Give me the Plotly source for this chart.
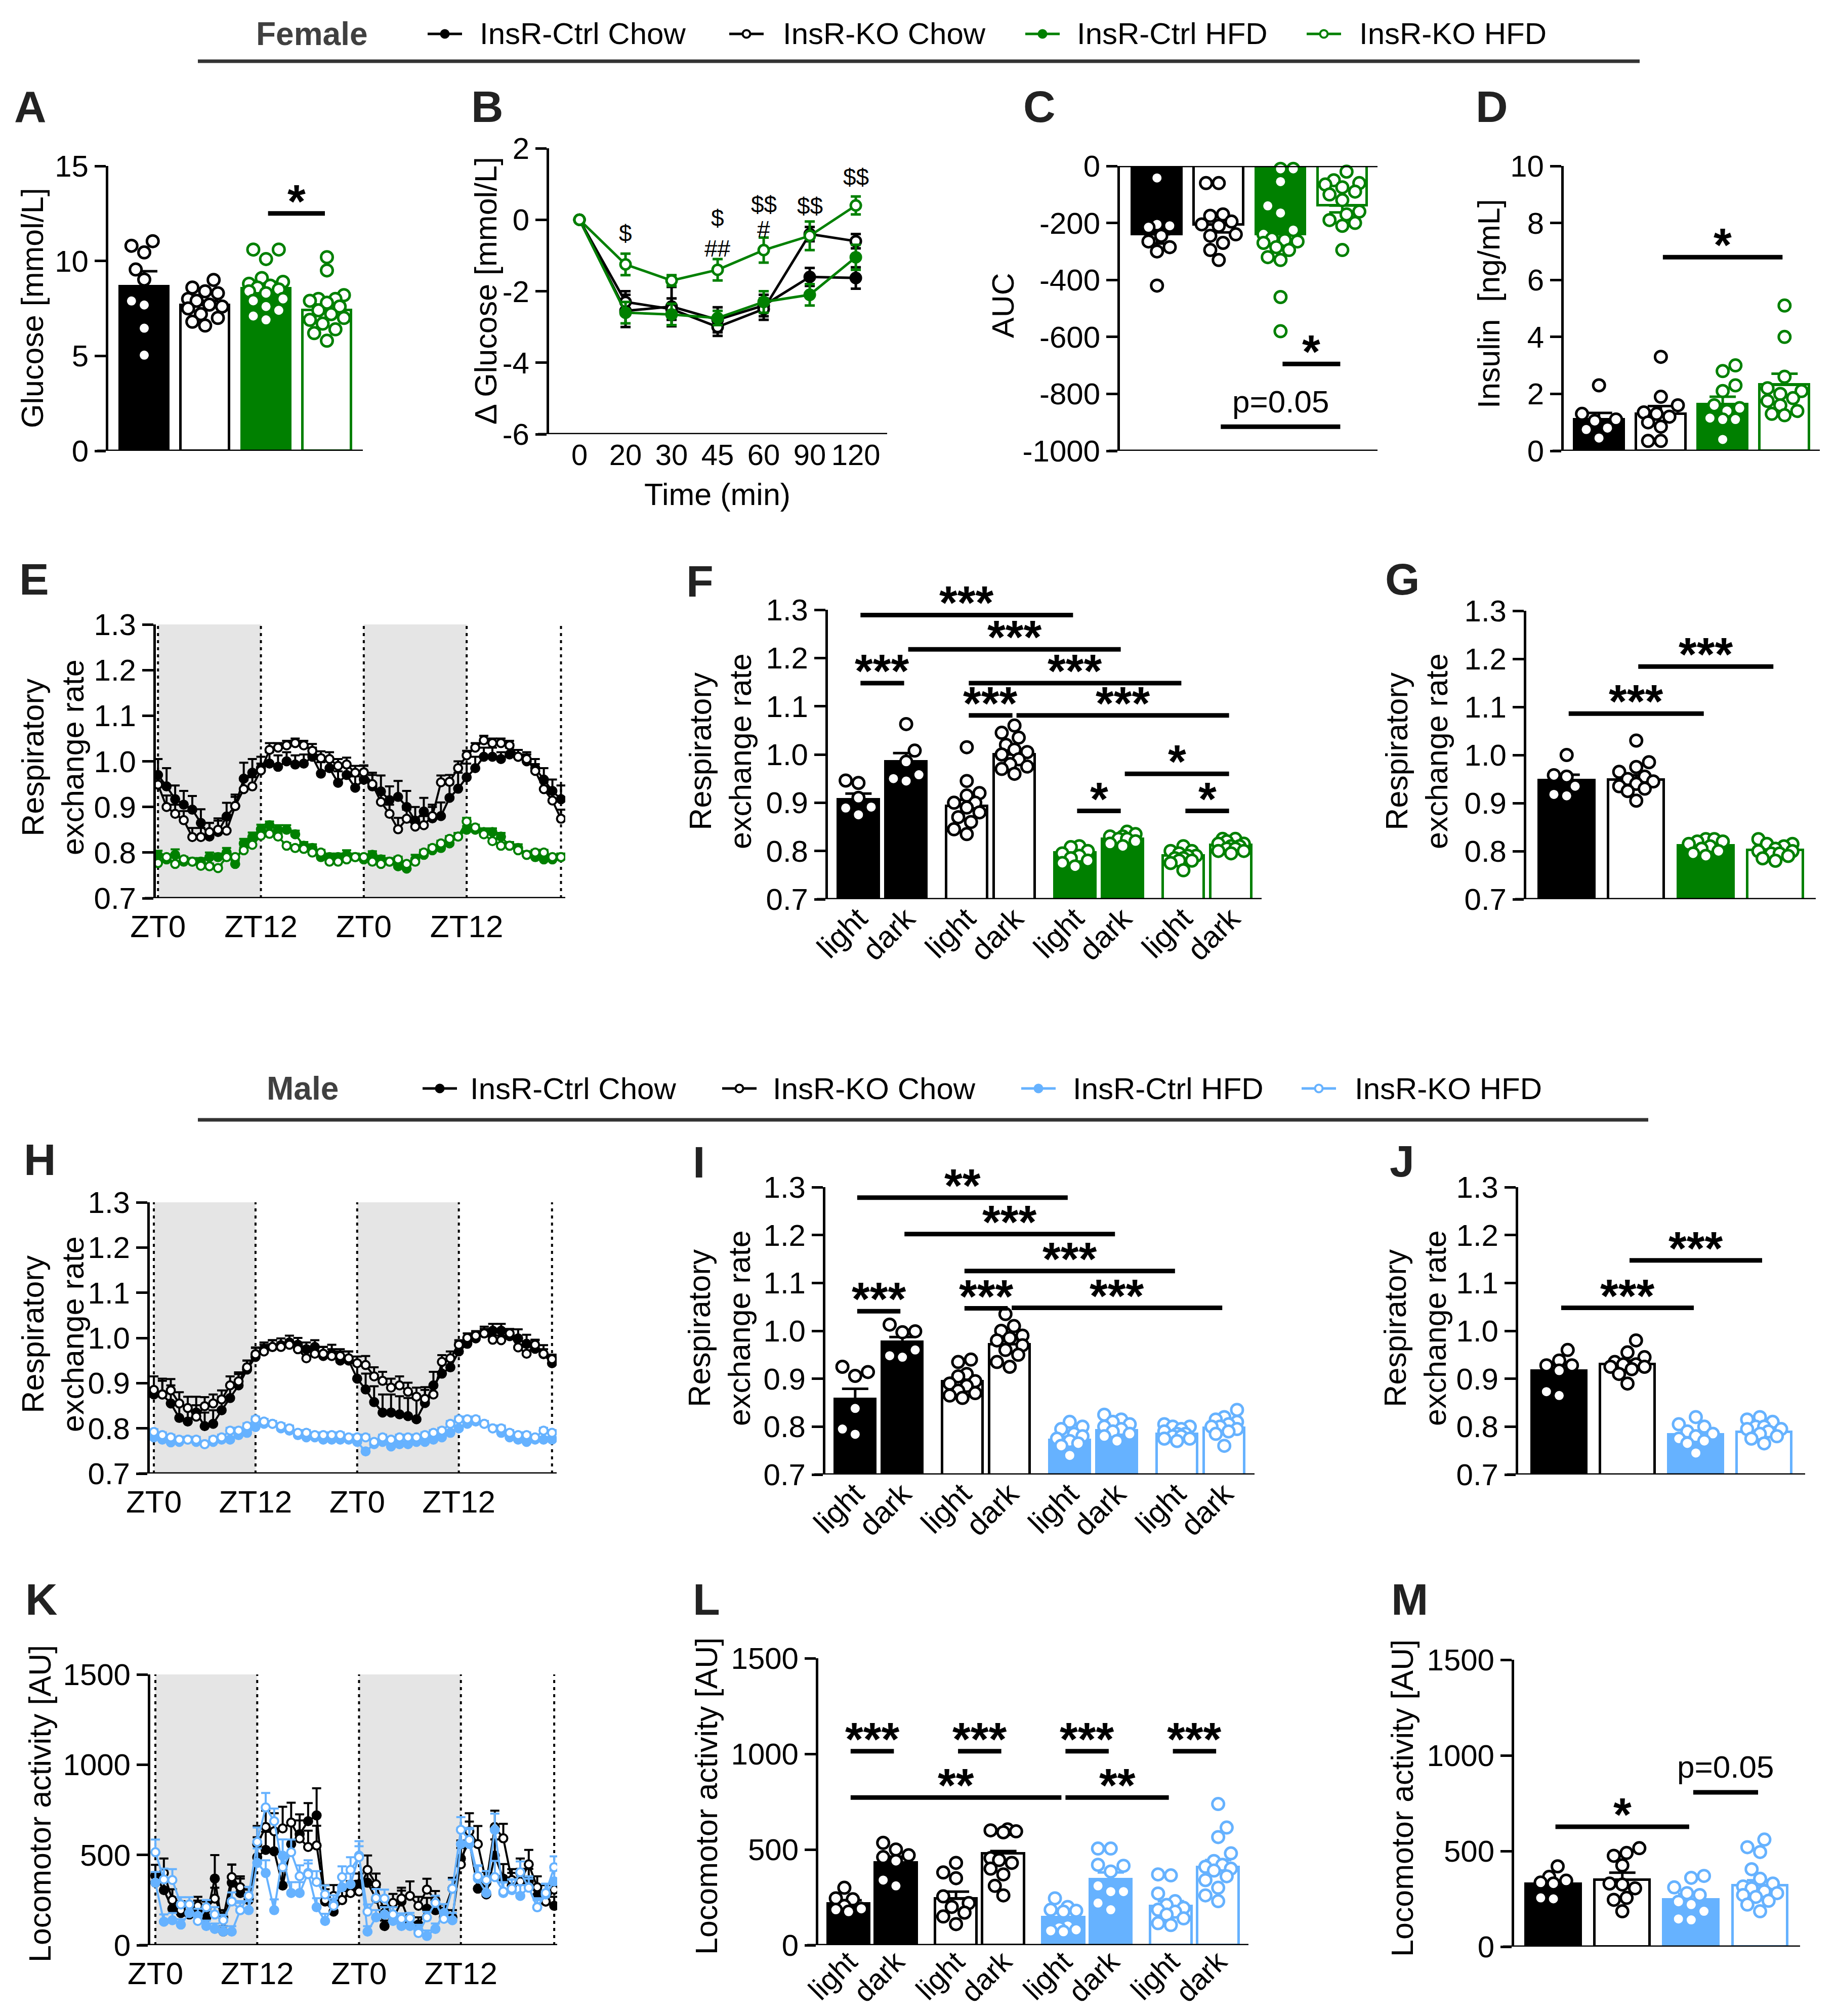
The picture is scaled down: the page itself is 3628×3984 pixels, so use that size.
import numpy as np
import plotly.graph_objects as go

W, H = 3628, 3984
FONT = "Liberation Sans, Arial, sans-serif"
BLACK, GREEN, BLUE = "#000000", "#008000", "#66B2FF"
SHADE = "#E5E5E5"

GROUPS = ["InsR-Ctrl Chow", "InsR-KO Chow", "InsR-Ctrl HFD", "InsR-KO HFD"]
FILLED = [True, False, True, False]
PHASES = ["light", "dark"]
TIME_LABELS = ["0", "20", "30", "45", "60", "90", "120"]
HOURS = list(range(48))
ZT_TICKS = [0, 12, 24, 36]
ZT_LABELS = ["ZT0", "ZT12", "ZT0", "ZT12"]
PHASE_LINES = [0, 12, 24, 36, 47]

# ---------------- female ----------------
A_MEAN = [8.66, 7.68, 8.55, 7.42]
A_SEM = [0.8, 0.22, 0.35, 0.35]
A_PTS = [
    [10.8, 10.45, 11.04, 9.55, 9.02, 7.68, 7.89, 6.46, 5.04],
    [9.0, 8.6, 8.4, 8.3, 8.0, 7.9, 7.7, 7.6, 7.5, 7.2, 7.0, 6.8, 6.6],
    [10.6, 10.6, 10.1, 9.1, 8.9, 8.8, 8.7, 8.6, 8.5, 8.4, 8.3, 8.0, 7.9, 7.6, 7.4, 7.1, 6.9],
    [10.2, 9.5, 8.0, 7.9, 8.2, 8.0, 7.8, 7.6, 7.4, 7.2, 7.0, 6.9, 6.7, 6.4, 6.2, 5.8],
]

B_MEAN = [
    [0, -2.55, -2.43, -2.8, -2.4, -1.6, -1.63],
    [0, -2.3, -2.5, -3.0, -2.5, -0.4, -0.6],
    [0, -2.6, -2.65, -2.75, -2.3, -2.1, -1.05],
    [0, -1.25, -1.7, -1.4, -0.85, -0.45, 0.4],
]
B_SEM = [
    [0, 0.45, 0.55, 0.35, 0.3, 0.25, 0.3],
    [0, 0.3, 0.3, 0.25, 0.3, 0.2, 0.2],
    [0, 0.3, 0.3, 0.2, 0.3, 0.3, 0.35],
    [0, 0.3, 0.15, 0.3, 0.35, 0.4, 0.25],
]
B_MARKS = [(1, -0.38, "$"), (3, 0.05, "$"), (3, -0.8, "##"), (4, 0.43, "$$"),
           (4, -0.27, "#"), (5, 0.38, "$$"), (6, 1.19, "$$")]

C_MEAN = [-240, -206, -240, -139]
C_SEM = [32, 27, 35, 24]
C_PTS = [
    [-42, -205, -210, -215, -245, -265, -285, -300, -420],
    [-60, -60, -170, -175, -195, -205, -210, -240, -245, -270, -295, -330],
    [-10, -10, -55, -140, -165, -225, -240, -255, -260, -265, -270, -285, -295, -320, -330, -460, -580],
    [-20, -50, -60, -65, -75, -90, -100, -120, -160, -170, -190, -200, -210, -295],
]

D_MEAN = [1.1, 1.29, 1.63, 2.32]
D_SEM = [0.23, 0.28, 0.27, 0.39]
D_PTS = [
    [2.3, 1.3, 1.1, 1.05, 0.8, 0.75, 0.45],
    [3.3, 1.9, 1.6, 1.35, 1.3, 1.2, 1.0, 0.85, 0.35, 0.35],
    [3.0, 2.8, 2.3, 2.1, 1.6, 1.5, 1.4, 1.15, 1.1, 1.1, 0.4],
    [5.1, 4.0, 2.6, 2.2, 2.1, 2.0, 1.85, 1.75, 1.6, 1.4, 1.3, 1.25],
]

E_MEAN = [
    [0.97, 0.945, 0.917, 0.905, 0.894, 0.865, 0.835, 0.845,
     0.879, 0.902, 0.962, 0.975, 0.985, 0.995, 0.988, 1.0,
     0.993, 0.995, 1.01, 0.973, 0.985, 0.953, 0.97, 0.942,
     0.96, 0.945, 0.934, 0.915, 0.922, 0.90, 0.87, 0.89,
     0.875, 0.88, 0.92, 0.94, 0.965, 0.985, 1.01, 1.01,
     1.005, 1.015, 1.01, 1.0, 0.985, 0.96, 0.935, 0.917],
    [0.949, 0.90, 0.885, 0.871, 0.834, 0.834, 0.845, 0.85,
     0.848, 0.902, 0.939, 0.945, 0.98, 1.025, 1.03, 1.035,
     1.04, 1.035, 1.023, 1.007, 1.005, 0.99, 0.993, 0.975,
     0.976, 0.95, 0.911, 0.885, 0.851, 0.874, 0.857, 0.86,
     0.88, 0.954, 0.955, 0.985, 1.013, 1.03, 1.046, 1.04,
     1.04, 1.035, 1.01, 1.005, 0.979, 0.939, 0.914, 0.874],
    [0.794, 0.785, 0.795, 0.78, 0.78, 0.78, 0.79, 0.79,
     0.80, 0.775, 0.82, 0.834, 0.851, 0.86, 0.85, 0.85,
     0.84, 0.815, 0.81, 0.79, 0.79, 0.79, 0.795, 0.79,
     0.785, 0.795, 0.785, 0.78, 0.77, 0.765, 0.785, 0.795,
     0.805, 0.81, 0.82, 0.835, 0.85, 0.85, 0.845, 0.845,
     0.835, 0.815, 0.81, 0.795, 0.79, 0.785, 0.785, 0.79],
    [0.777, 0.79, 0.775, 0.785, 0.78, 0.771, 0.77, 0.766,
     0.79, 0.79, 0.805, 0.817, 0.837, 0.841, 0.835, 0.815,
     0.81, 0.808, 0.80, 0.80, 0.78, 0.78, 0.785, 0.79,
     0.79, 0.78, 0.775, 0.78, 0.785, 0.775, 0.78, 0.80,
     0.81, 0.82, 0.83, 0.835, 0.868, 0.855, 0.84, 0.825,
     0.815, 0.815, 0.805, 0.795, 0.80, 0.80, 0.79, 0.79],
]
E_SEM = [
    [0.035, 0.04, 0.03, 0.03, 0.03, 0.03, 0.03, 0.03,
     0.03, 0.025, 0.035, 0.03, 0.025, 0.025, 0.025, 0.02,
     0.02, 0.02, 0.02, 0.025, 0.02, 0.025, 0.02, 0.025,
     0.03, 0.03, 0.035, 0.03, 0.035, 0.035, 0.03, 0.03,
     0.03, 0.03, 0.03, 0.035, 0.03, 0.025, 0.02, 0.02,
     0.015, 0.015, 0.015, 0.015, 0.02, 0.025, 0.025, 0.03],
    [0.02, 0.025, 0.02, 0.02, 0.02, 0.02, 0.02, 0.02,
     0.025, 0.02, 0.02, 0.02, 0.015, 0.015, 0.01, 0.01,
     0.01, 0.01, 0.015, 0.015, 0.015, 0.015, 0.015, 0.015,
     0.015, 0.02, 0.02, 0.02, 0.025, 0.02, 0.02, 0.02,
     0.02, 0.015, 0.015, 0.015, 0.01, 0.01, 0.01, 0.01,
     0.01, 0.01, 0.015, 0.015, 0.015, 0.015, 0.02, 0.02],
    [0.01, 0.008, 0.012, 0.01, 0.008, 0.008, 0.01, 0.008,
     0.01, 0.008, 0.01, 0.01, 0.01, 0.008, 0.01, 0.01,
     0.008, 0.008, 0.008, 0.008, 0.008, 0.008, 0.01, 0.008,
     0.008, 0.008, 0.008, 0.008, 0.01, 0.008, 0.01, 0.01,
     0.01, 0.01, 0.01, 0.008, 0.008, 0.008, 0.008, 0.008,
     0.008, 0.008, 0.008, 0.008, 0.008, 0.008, 0.008, 0.008],
    [0.006, 0.006, 0.006, 0.006, 0.006, 0.006, 0.006, 0.006,
     0.006, 0.006, 0.006, 0.008, 0.008, 0.008, 0.006, 0.006,
     0.006, 0.006, 0.006, 0.006, 0.006, 0.006, 0.006, 0.006,
     0.006, 0.006, 0.006, 0.006, 0.006, 0.006, 0.006, 0.006,
     0.006, 0.006, 0.006, 0.006, 0.008, 0.006, 0.006, 0.006,
     0.006, 0.006, 0.006, 0.006, 0.006, 0.006, 0.006, 0.006],
]

F_MEAN = [0.907, 0.985, 0.893, 1.0, 0.797, 0.825, 0.79, 0.812]
F_SEM = [0.012, 0.018, 0.013, 0.009, 0.004, 0.004, 0.004, 0.004]
F_PTS = [
    [0.91, 0.941, 0.946, 0.875, 0.891, 0.889],
    [1.063, 1.008, 0.985, 0.945, 0.958, 0.95],
    [1.015, 0.945, 0.92, 0.90, 0.915, 0.90, 0.89, 0.88, 0.87, 0.86, 0.845, 0.835],
    [1.06, 1.045, 1.035, 1.02, 1.01, 1.005, 1.0, 0.99, 0.98, 0.975, 0.97, 0.96],
    [0.81, 0.808, 0.80, 0.795, 0.79, 0.785, 0.78, 0.775, 0.768],
    [0.84, 0.835, 0.83, 0.83, 0.825, 0.825, 0.82, 0.815, 0.81],
    [0.81, 0.80, 0.80, 0.795, 0.79, 0.79, 0.785, 0.785, 0.78, 0.78, 0.775, 0.76],
    [0.825, 0.825, 0.82, 0.815, 0.815, 0.81, 0.81, 0.805, 0.805, 0.80, 0.80, 0.795],
]

G_MEAN = [0.947, 0.948, 0.812, 0.802]
G_SEM = [0.012, 0.01, 0.003, 0.003]
G_PTS = [
    [1.0, 0.958, 0.955, 0.935, 0.918, 0.915],
    [1.03, 0.985, 0.975, 0.965, 0.955, 0.95, 0.945, 0.94, 0.935, 0.93, 0.925, 0.905],
    [0.825, 0.825, 0.82, 0.82, 0.815, 0.81, 0.805, 0.80, 0.795, 0.79],
    [0.825, 0.815, 0.815, 0.81, 0.805, 0.80, 0.80, 0.795, 0.795, 0.79, 0.785, 0.78],
]

# ---------------- male ----------------
H_MEAN = [
    [0.875, 0.875, 0.855, 0.823, 0.815, 0.835, 0.805, 0.81,
     0.84, 0.867, 0.895, 0.93, 0.958, 0.975, 0.98, 0.984,
     0.99, 0.985, 0.975, 0.98, 0.96, 0.965, 0.95, 0.95,
     0.91, 0.886, 0.858, 0.835, 0.835, 0.831, 0.827, 0.82,
     0.856, 0.895, 0.921, 0.935, 0.97, 0.987, 0.999, 1.01,
     1.016, 1.016, 1.004, 0.999, 0.987, 0.976, 0.964, 0.944],
    [0.885, 0.875, 0.884, 0.855, 0.845, 0.826, 0.849, 0.855,
     0.864, 0.895, 0.904, 0.935, 0.964, 0.97, 0.98, 0.98,
     0.985, 0.975, 0.955, 0.965, 0.965, 0.96, 0.96, 0.955,
     0.944, 0.94, 0.915, 0.905, 0.89, 0.895, 0.881, 0.87,
     0.865, 0.875, 0.947, 0.955, 0.985, 1.0, 1.005, 1.01,
     0.996, 0.995, 1.01, 0.979, 0.965, 0.985, 0.965, 0.953],
    [0.78, 0.775, 0.769, 0.77, 0.775, 0.77, 0.765, 0.77,
     0.775, 0.775, 0.785, 0.79, 0.803, 0.81, 0.81, 0.80,
     0.795, 0.785, 0.78, 0.78, 0.775, 0.775, 0.775, 0.775,
     0.77, 0.749, 0.765, 0.77, 0.76, 0.765, 0.765, 0.77,
     0.77, 0.775, 0.78, 0.79, 0.80, 0.81, 0.815, 0.81,
     0.80, 0.79, 0.78, 0.775, 0.77, 0.775, 0.775, 0.775],
    [0.792, 0.785, 0.78, 0.775, 0.775, 0.775, 0.765, 0.775,
     0.78, 0.795, 0.795, 0.805, 0.82, 0.815, 0.81, 0.805,
     0.80, 0.79, 0.79, 0.785, 0.785, 0.785, 0.785, 0.78,
     0.78, 0.78, 0.77, 0.78, 0.775, 0.78, 0.78, 0.78,
     0.785, 0.79, 0.795, 0.81, 0.82, 0.82, 0.82, 0.81,
     0.80, 0.80, 0.79, 0.785, 0.785, 0.78, 0.795, 0.79],
]
H_SEM = [
    [0.04, 0.035, 0.04, 0.035, 0.03, 0.035, 0.03, 0.03,
     0.03, 0.03, 0.025, 0.02, 0.02, 0.015, 0.015, 0.015,
     0.015, 0.015, 0.015, 0.015, 0.02, 0.02, 0.02, 0.02,
     0.03, 0.035, 0.035, 0.04, 0.04, 0.04, 0.04, 0.045,
     0.035, 0.03, 0.025, 0.02, 0.02, 0.015, 0.015, 0.015,
     0.015, 0.015, 0.015, 0.02, 0.02, 0.02, 0.02, 0.015],
    [0.03, 0.03, 0.025, 0.025, 0.025, 0.025, 0.02, 0.02,
     0.02, 0.02, 0.02, 0.015, 0.015, 0.015, 0.015, 0.01,
     0.01, 0.015, 0.015, 0.015, 0.015, 0.015, 0.015, 0.015,
     0.015, 0.02, 0.02, 0.02, 0.02, 0.02, 0.02, 0.02,
     0.02, 0.02, 0.015, 0.015, 0.01, 0.01, 0.01, 0.01,
     0.01, 0.01, 0.01, 0.015, 0.015, 0.01, 0.01, 0.01],
    [0.006] * 48,
    [0.006] * 48,
]

I_MEAN = [0.857, 0.977, 0.894, 0.972, 0.772, 0.792, 0.784, 0.797]
I_SEM = [0.022, 0.01, 0.008, 0.01, 0.007, 0.006, 0.005, 0.006]
I_PTS = [
    [0.925, 0.914, 0.906, 0.838, 0.795, 0.784],
    [1.013, 0.999, 0.997, 0.96, 0.948, 0.945],
    [0.94, 0.935, 0.91, 0.905, 0.895, 0.89, 0.885, 0.875, 0.87, 0.865, 0.86],
    [1.035, 1.01, 1.0, 0.99, 0.985, 0.98, 0.97, 0.96, 0.95, 0.935, 0.925],
    [0.81, 0.80, 0.795, 0.785, 0.78, 0.775, 0.77, 0.765, 0.76, 0.74],
    [0.825, 0.815, 0.81, 0.805, 0.80, 0.795, 0.79, 0.785, 0.78, 0.77],
    [0.805, 0.80, 0.80, 0.795, 0.79, 0.785, 0.785, 0.78, 0.78, 0.775, 0.775, 0.77],
    [0.835, 0.82, 0.815, 0.81, 0.805, 0.80, 0.80, 0.795, 0.79, 0.785, 0.76],
]

J_MEAN = [0.917, 0.93, 0.783, 0.789]
J_SEM = [0.012, 0.008, 0.006, 0.004]
J_PTS = [
    [0.96, 0.938, 0.928, 0.928, 0.917, 0.873, 0.865],
    [0.98, 0.955, 0.945, 0.935, 0.93, 0.93, 0.925, 0.925, 0.92, 0.91, 0.89],
    [0.82, 0.805, 0.80, 0.79, 0.785, 0.78, 0.775, 0.77, 0.765, 0.745],
    [0.82, 0.815, 0.81, 0.80, 0.80, 0.795, 0.795, 0.79, 0.785, 0.78, 0.775, 0.765],
]

K_MEAN = [
    [385, 305, 202, 178, 170, 202, 154, 369, 75, 346, 289, 250,
     488, 528, 520, 330, 560, 615, 687, 719, 242, 186, 250, 305,
     337, 346, 258, 106, 146, 242, 122, 114, 202, 194, 154, 154,
     480, 575, 313, 281, 496, 369, 330, 400, 353, 273, 242, 218],
    [346, 400, 250, 194, 178, 218, 202, 258, 154, 377, 321, 258,
     560, 655, 631, 647, 679, 591, 544, 552, 250, 273, 250, 289,
     297, 417, 337, 178, 234, 258, 273, 218, 308, 250, 186, 313,
     448, 631, 560, 346, 655, 592, 361, 353, 448, 321, 242, 308],
    [346, 130, 138, 114, 178, 162, 106, 90, 75, 75, 194, 194,
     456, 400, 194, 496, 289, 289, 400, 210, 134, 226, 321, 337,
     496, 75, 154, 170, 134, 106, 106, 83, 51, 90, 178, 138,
     560, 560, 369, 289, 639, 289, 305, 273, 321, 210, 281, 353],
    [515, 364, 361, 226, 226, 134, 210, 170, 138, 242, 194, 273,
     572, 763, 687, 432, 515, 382, 393, 350, 281, 218, 377, 417,
     488, 186, 261, 258, 170, 146, 149, 67, 154, 234, 146, 313,
     639, 583, 382, 361, 377, 297, 313, 404, 318, 210, 289, 432],
]
K_SEM = [
    [60, 90, 50, 40, 40, 45, 40, 130, 30, 100, 80, 60,
     110, 100, 120, 90, 120, 110, 100, 150, 90, 60, 60, 50,
     60, 70, 60, 30, 40, 60, 40, 40, 60, 50, 40, 40,
     100, 110, 70, 60, 90, 80, 70, 80, 70, 60, 90, 50],
    [50, 80, 60, 50, 40, 50, 40, 60, 40, 70, 60, 50,
     100, 90, 100, 120, 110, 100, 90, 110, 60, 60, 50, 60,
     60, 80, 60, 40, 50, 60, 80, 50, 60, 50, 40, 60,
     90, 100, 100, 60, 90, 80, 60, 70, 80, 60, 60, 50],
    [60, 40, 40, 30, 40, 40, 30, 30, 30, 30, 50, 50,
     80, 70, 60, 90, 60, 60, 70, 50, 40, 50, 60, 60,
     80, 30, 40, 40, 30, 30, 30, 30, 30, 30, 50, 40,
     90, 90, 70, 60, 90, 60, 60, 60, 60, 50, 60, 60],
    [70, 60, 60, 40, 40, 30, 40, 40, 30, 50, 40, 50,
     80, 80, 70, 60, 70, 60, 60, 60, 50, 40, 60, 70,
     60, 40, 50, 50, 40, 30, 30, 20, 30, 40, 30, 50,
     70, 60, 60, 50, 90, 50, 50, 60, 50, 40, 50, 60],
]

L_MEAN = [217, 430, 243, 480, 145, 345, 205, 408]
L_SEM = [18, 33, 37, 12, 22, 35, 25, 37]
L_PTS = [
    [300, 245, 240, 205, 190, 185, 175],
    [535, 500, 470, 460, 440, 340, 310],
    [430, 380, 350, 255, 220, 200, 170, 150, 110],
    [605, 600, 595, 590, 455, 445, 430, 400, 370, 310, 260],
    [245, 200, 185, 180, 175, 100, 90, 80, 75, 70],
    [505, 505, 420, 415, 385, 310, 280, 280, 220, 185],
    [370, 365, 270, 230, 210, 195, 185, 175, 160, 140, 115, 105],
    [738, 615, 565, 480, 440, 420, 410, 400, 390, 360, 340, 300, 260, 230],
]

M_MEAN = [327, 350, 245, 320]
M_SEM = [18, 37, 30, 27]
M_PTS = [
    [420, 365, 345, 335, 330, 255, 250],
    [515, 490, 475, 425, 330, 325, 305, 255, 245, 185],
    [370, 360, 310, 280, 270, 235, 220, 185, 145, 140],
    [560, 520, 495, 405, 355, 330, 315, 305, 290, 280, 270, 260, 240, 220, 185],
]

# significance brackets: (bar i, bar j, y of line, label)
SIG_A = [(2, 3, 12.5, "*")]
SIG_C = [(2, 3, -695, "*"), (1, 3, -915, "p=0.05")]
SIG_D = [(1, 3, 6.8, "*")]
SIG_F = [(0, 4, 1.289, "***"), (1, 5, 1.218, "***"), (2, 6, 1.148, "***"),
         (0, 1, 1.148, "***"), (2, 3, 1.081, "***"), (3, 7, 1.081, "***"),
         (5, 7, 0.96, "*"), (4, 5, 0.883, "*"), (6, 7, 0.883, "*")]
SIG_G = [(0, 2, 1.086, "***"), (1, 3, 1.184, "***")]
SIG_I = [(0, 4, 1.278, "**"), (1, 5, 1.202, "***"), (2, 6, 1.125, "***"),
         (0, 1, 1.041, "***"), (2, 3, 1.047, "***"), (3, 7, 1.048, "***")]
SIG_J = [(0, 2, 1.048, "***"), (1, 3, 1.147, "***")]
SIG_L = [(0, 1, 1014, "***"), (2, 3, 1014, "***"), (4, 5, 1014, "***"),
         (6, 7, 1014, "***"), (0, 4, 772, "**"), (4, 6, 772, "**")]
SIG_M = [(0, 2, 627, "*"), (2, 3, 807, "p=0.05")]

# ---------------------------------------------------------------
fig = go.Figure()
layout = {}
shapes = []
annotations = []

# panel boxes in page pixels: left, right, top, bottom
BOX = {
    "A": (214, 717, 328, 891), "B": (1085, 1753, 293, 858),
    "C": (2213, 2722, 328, 891), "D": (3090, 3596, 328, 891),
    "E": (308, 1117, 1234, 1775), "F": (1636, 2493, 1205, 1777),
    "G": (3016, 3588, 1207, 1777), "H": (296, 1100, 2376, 2912),
    "I": (1631, 2479, 2346, 2914), "J": (3000, 3567, 2346, 2914),
    "K": (297, 1101, 3309, 3844), "L": (1617, 2467, 3277, 3844),
    "M": (2992, 3557, 3280, 3847),
}
LETTER_XY = {
    "A": (60, 211), "B": (963, 211), "C": (2054, 211), "D": (2948, 211),
    "E": (67, 1144), "F": (1383, 1149), "G": (2771, 1144),
    "H": (79, 2291), "I": (1381, 2296), "J": (2770, 2294),
    "K": (82, 3160), "L": (1396, 3160), "M": (2785, 3160),
}
TICKLEN = 22


def names(n):
    s = "" if n == 1 else str(n)
    return "x" + s, "y" + s, "xaxis" + s, "yaxis" + s


def make_axes(n, key, xr, yr, yticks, yfmt="", xvals=None, xtext=None,
              xangle=0, xfont=58, xstand=0, bases=None, ytext=None):
    x0, x1, yt, yb = BOX[key]
    xa, ya, xk, yk = names(n)
    layout[xk] = dict(domain=[x0 / W, x1 / W], range=xr, anchor=ya,
                      showline=False, showgrid=False, zeroline=False, ticks="",
                      tickvals=xvals if xvals is not None else [],
                      ticktext=xtext if xtext is not None else [],
                      showticklabels=xvals is not None, tickangle=xangle,
                      tickfont=dict(size=xfont), ticklabelstandoff=xstand,
                      automargin=False, fixedrange=True)
    ya_cfg = dict(domain=[1 - yb / H, 1 - yt / H], range=yr, anchor=xa,
                  showline=True, linewidth=5, linecolor="black",
                  ticks="outside", ticklen=TICKLEN, tickwidth=5,
                  tickcolor="black", tickvals=yticks, tickformat=yfmt,
                  tickfont=dict(size=60), showgrid=False, zeroline=False,
                  automargin=False, fixedrange=True)
    if ytext is not None:
        ya_cfg["ticktext"] = ytext
    layout[yk] = ya_cfg
    for b in (bases if bases is not None else [yr[0]]):
        shapes.append(dict(type="line", xref="paper", yref=ya,
                           x0=(x0 - TICKLEN) / W, x1=x1 / W, y0=b, y1=b,
                           line=dict(color="black", width=5)))
    lx, ly = LETTER_XY[key]
    annotations.append(dict(xref="paper", yref="paper", x=lx / W, y=1 - ly / H,
                            text="<b>%s</b>" % key, showarrow=False,
                            font=dict(size=88, color="#222222"),
                            xanchor="center", yanchor="middle"))
    return xa, ya


def axis_title(text, x, y, size=61):
    annotations.append(dict(xref="paper", yref="paper", x=x / W, y=1 - y / H,
                            text=text, textangle=-90, showarrow=False,
                            font=dict(size=size), xanchor="center",
                            yanchor="middle"))


def swarm(vals, ppy, maxpx, d=28):
    placed = []
    offs = [0.0] * len(vals)
    base = [k * d * 0.3 for k in range(-25, 26)]
    base = [c for c in base if abs(c) <= maxpx] or [0.0]
    for cnt, i in enumerate(sorted(range(len(vals)), key=lambda k: vals[k])):
        sgn = 1 if cnt % 2 else -1
        cands = sorted(base, key=lambda c: (abs(c), sgn * c))
        y = vals[i] * ppy
        best, best_gap = 0.0, -1.0
        for c in cands:
            gap = min([np.hypot(c - a, y - b) for a, b in placed] or [1e9])
            if gap >= 0.9 * d:
                best = c
                break
            if gap > best_gap:
                best, best_gap = c, gap
        placed.append((best, y))
        offs[i] = best
    return offs


def bar_panel(n, key, xr, yr, pos, means, sems, pts, colors, filled, bw, neg=False):
    xa, ya, _, _ = names(n)
    x0, x1, yt, yb = BOX[key]
    ppx = (x1 - x0) / (xr[1] - xr[0])
    ppy = (yb - yt) / (yr[1] - yr[0])
    for p, m, s, vals, c, f in zip(pos, means, sems, pts, colors, filled):
        fig.add_trace(go.Bar(
            x=[p], y=[m], width=bw, xaxis=xa, yaxis=ya,
            marker=dict(color=c if f else "white", line=dict(color=c, width=5)),
            error_y=dict(type="data", symmetric=False,
                         array=[0 if neg else s], arrayminus=[s if neg else 0],
                         color=c, thickness=5, width=26)))
        offs = swarm(vals, ppy, bw * ppx / 2 - 14)
        fig.add_trace(go.Scatter(
            x=[p + o / ppx for o in offs], y=vals, mode="markers",
            xaxis=xa, yaxis=ya, cliponaxis=False,
            marker=dict(size=23, color="white", line=dict(color=c, width=5))))
    return ppx


def sig(n, pos, specs, ppx):
    xa, ya, _, _ = names(n)
    sh = 4 / ppx
    for i, j, y, label in specs:
        shapes.append(dict(type="line", xref=xa, yref=ya, x0=pos[i] + sh,
                           x1=pos[j] - sh, y0=y, y1=y,
                           line=dict(color="black", width=9)))
        if label.startswith("p"):
            txt, size, shift = label, 62, 50
        else:
            txt, size, shift = "<b>%s</b>" % label, 92, 24
        annotations.append(dict(xref=xa, yref=ya, x=(pos[i] + pos[j]) / 2, y=y,
                                text=txt, showarrow=False, font=dict(size=size),
                                xanchor="center", yanchor="middle", yshift=shift))


def time_panel(n, key, xr, yr, yticks, yfmt, series, sems, colors, filled, bases=None):
    xa, ya = make_axes(n, key, xr, yr, yticks, yfmt, xvals=ZT_TICKS,
                       xtext=ZT_LABELS, xfont=62, xstand=14, bases=bases)
    for a, b in [(0, 12), (24, 36)]:
        shapes.append(dict(type="rect", xref=xa, yref=ya, x0=a, x1=b,
                           y0=yr[0], y1=yr[1], fillcolor=SHADE,
                           line=dict(width=0), layer="below"))
    for h in PHASE_LINES:
        shapes.append(dict(type="line", xref=xa, yref=ya, x0=h, x1=h,
                           y0=yr[0], y1=yr[1], layer="below",
                           line=dict(color="black", width=4, dash="6px,8px")))
    for ys, es, c, f in zip(series, sems, colors, filled):
        fig.add_trace(go.Scatter(
            x=HOURS, y=ys, mode="lines+markers", xaxis=xa, yaxis=ya,
            line=dict(color=c, width=4),
            marker=dict(size=16, color=c if f else "white",
                        line=dict(color=c, width=4)),
            error_y=dict(type="data", symmetric=False, array=es,
                         arrayminus=[0] * len(es), color=c, thickness=4, width=9)))


FEM_COL = [BLACK, BLACK, GREEN, GREEN]
MAL_COL = [BLACK, BLACK, BLUE, BLUE]
FOUR = [0, 1, 2, 3]
PAIRS = [p * 2.27 + m for p in range(4) for m in range(2)]
ROT_STAND = -10


def twice(seq):
    return [v for v in seq for _ in range(2)]


def plain(ticks):
    return [str(v) for v in ticks]


# ---- A ----
make_axes(1, "A", [-0.59, 3.59], [0, 15], [0, 5, 10, 15])
ppx = bar_panel(1, "A", [-0.59, 3.59], [0, 15], FOUR, A_MEAN, A_SEM, A_PTS, FEM_COL, FILLED, 0.8)
sig(1, FOUR, SIG_A, ppx)
axis_title("Glucose [mmol/L]", 64, 609)

# ---- B ----
B_TICKS = [-6, -4, -2, 0, 2]
xa, ya = make_axes(2, "B", [-0.66, 6.68], [-6, 2], B_TICKS, ytext=plain(B_TICKS),
                   xvals=list(range(len(TIME_LABELS))), xtext=TIME_LABELS, xstand=2)
for ys, es, c, f in zip(B_MEAN, B_SEM, FEM_COL, FILLED):
    fig.add_trace(go.Scatter(
        x=list(range(len(TIME_LABELS))), y=ys, mode="lines+markers",
        xaxis=xa, yaxis=ya, cliponaxis=False, line=dict(color=c, width=5),
        marker=dict(size=20, color=c if f else "white", line=dict(color=c, width=5)),
        error_y=dict(type="data", array=es, color=c, thickness=5, width=10)))
for i, y, t in B_MARKS:
    annotations.append(dict(xref=xa, yref=ya, x=i, y=y, text=t, showarrow=False,
                            font=dict(size=46), xanchor="center", yanchor="middle"))
axis_title("Δ Glucose [mmol/L]", 960, 575)
annotations.append(dict(xref="paper", yref="paper", x=1417 / W, y=1 - 977 / H,
                        text="Time (min)", showarrow=False, font=dict(size=61),
                        xanchor="center", yanchor="middle"))

# ---- C ----
C_TICKS = list(range(-1000, 1, 200))
make_axes(3, "C", [-0.6, 3.57], [-1000, 0], C_TICKS, ytext=plain(C_TICKS), bases=[0, -1000])
ppx = bar_panel(3, "C", [-0.6, 3.57], [-1000, 0], FOUR, C_MEAN, C_SEM, C_PTS, FEM_COL, FILLED, 0.8, neg=True)
sig(3, FOUR, SIG_C, ppx)
axis_title("AUC", 1982, 603)

# ---- D ----
make_axes(4, "D", [-0.57, 3.57], [0, 10], [0, 2, 4, 6, 8, 10])
ppx = bar_panel(4, "D", [-0.57, 3.57], [0, 10], FOUR, D_MEAN, D_SEM, D_PTS, FEM_COL, FILLED, 0.8)
sig(4, FOUR, SIG_D, ppx)
axis_title("Insulin\u00a0 [ng/mL]", 2942, 600)

RER_TICKS = [0.7, 0.8, 0.9, 1.0, 1.1, 1.2, 1.3]
RER_TITLE = "Respiratory<br>exchange rate"

# ---- E ----
time_panel(5, "E", [-0.25, 47.5], [0.7, 1.3], RER_TICKS, ".1f", E_MEAN, E_SEM, FEM_COL, FILLED)
axis_title(RER_TITLE, 104, 1497)

# ---- F ----
make_axes(6, "F", [-0.64, 8.45], [0.7, 1.3], RER_TICKS, ".1f", xvals=PAIRS,
          xtext=PHASES * 4, xangle=-45, xfont=60, xstand=ROT_STAND)
ppx = bar_panel(6, "F", [-0.64, 8.45], [0.7, 1.3], PAIRS, F_MEAN, F_SEM, F_PTS,
                twice(FEM_COL), twice(FILLED), 0.86)
sig(6, PAIRS, SIG_F, ppx)
axis_title(RER_TITLE, 1423, 1485)

# ---- G ----
make_axes(7, "G", [-0.58, 3.58], [0.7, 1.3], RER_TICKS, ".1f")
ppx = bar_panel(7, "G", [-0.58, 3.58], [0.7, 1.3], FOUR, G_MEAN, G_SEM, G_PTS, FEM_COL, FILLED, 0.8)
sig(7, FOUR, SIG_G, ppx)
axis_title(RER_TITLE, 2799, 1485)

# ---- H ----
time_panel(8, "H", [-0.48, 47.55], [0.7, 1.3], RER_TICKS, ".1f", H_MEAN, H_SEM, MAL_COL, FILLED)
axis_title(RER_TITLE, 104, 2637)

# ---- I ----
make_axes(9, "I", [-0.63, 8.45], [0.7, 1.3], RER_TICKS, ".1f", xvals=PAIRS,
          xtext=PHASES * 4, xangle=-45, xfont=60, xstand=ROT_STAND)
ppx = bar_panel(9, "I", [-0.63, 8.45], [0.7, 1.3], PAIRS, I_MEAN, I_SEM, I_PTS,
                twice(MAL_COL), twice(FILLED), 0.86)
sig(9, PAIRS, SIG_I, ppx)
axis_title(RER_TITLE, 1421, 2625)

# ---- J ----
make_axes(10, "J", [-0.6, 3.6], [0.7, 1.3], RER_TICKS, ".1f")
ppx = bar_panel(10, "J", [-0.6, 3.6], [0.7, 1.3], FOUR, J_MEAN, J_SEM, J_PTS, MAL_COL, FILLED, 0.8)
sig(10, FOUR, SIG_J, ppx)
axis_title(RER_TITLE, 2796, 2625)

# ---- K ----
time_panel(11, "K", [-0.6, 47.35], [0, 1500], [0, 500, 1000, 1500], "", K_MEAN, K_SEM, MAL_COL, FILLED)
axis_title("Locomotor activity [AU]", 79, 3565)

# ---- L ----
make_axes(12, "L", [-0.64, 8.45], [0, 1500], [0, 500, 1000, 1500], xvals=PAIRS,
          xtext=PHASES * 4, xangle=-45, xfont=58, xstand=ROT_STAND - 4)
ppx = bar_panel(12, "L", [-0.64, 8.45], [0, 1500], PAIRS, L_MEAN, L_SEM, L_PTS,
                twice(MAL_COL), twice(FILLED), 0.88)
sig(12, PAIRS, SIG_L, ppx)
axis_title("Locomotor activity [AU]", 1396, 3550)

# ---- M ----
make_axes(13, "M", [-0.57, 3.58], [0, 1500], [0, 500, 1000, 1500])
ppx = bar_panel(13, "M", [-0.57, 3.58], [0, 1500], FOUR, M_MEAN, M_SEM, M_PTS, MAL_COL, FILLED, 0.8)
sig(13, FOUR, SIG_M, ppx)
axis_title("Locomotor activity [AU]", 2771, 3554)

# ---- legends (overlay in page pixels) ----
layout["xaxis14"] = dict(domain=[0, 1], range=[0, W], visible=False,
                         automargin=False, fixedrange=True)
layout["yaxis14"] = dict(domain=[0, 1], range=[H, 0], visible=False,
                         automargin=False, fixedrange=True)


def legend_row(y, title, tx, marks, texts, colors, line_y, line_x1):
    annotations.append(dict(xref="paper", yref="paper", x=tx / W, y=1 - y / H,
                            text="<b>%s</b>" % title, showarrow=False,
                            font=dict(size=64, color="#404040"),
                            xanchor="center", yanchor="middle"))
    for mx, txx, name, c, f in zip(marks, texts, GROUPS, colors, FILLED):
        fig.add_trace(go.Scatter(x=[mx - 34, mx + 34], y=[y, y], mode="lines",
                                 line=dict(color=c, width=5), xaxis="x14", yaxis="y14"))
        fig.add_trace(go.Scatter(x=[mx], y=[y], mode="markers", xaxis="x14", yaxis="y14",
                                 marker=dict(size=15, color=c if f else "white",
                                             line=dict(color=c, width=4))))
        annotations.append(dict(xref="paper", yref="paper", x=txx / W, y=1 - y / H,
                                text=name, showarrow=False, font=dict(size=60),
                                xanchor="left", yanchor="middle"))
    shapes.append(dict(type="line", xref="paper", yref="paper", x0=391 / W,
                       x1=line_x1 / W, y0=1 - line_y / H, y1=1 - line_y / H,
                       line=dict(color="#333333", width=7)))


legend_row(67, "Female", 616, [879, 1475, 2060, 2616], [946, 1545, 2126, 2684],
           FEM_COL, 121, 3240)
legend_row(2151, "Male", 598, [869, 1461, 2052, 2606], [927, 1525, 2118, 2675],
           MAL_COL, 2213, 3257)

fig.update_layout(
    width=W, height=H, margin=dict(l=0, r=0, t=0, b=0, autoexpand=False),
    paper_bgcolor="white", plot_bgcolor="rgba(0,0,0,0)",
    showlegend=False, barmode="overlay", bargap=0,
    font=dict(family=FONT, size=60, color="black"),
    shapes=shapes, annotations=annotations, **layout,
)
fig.write_html("out.html", config={"displayModeBar": False},
               post_script="document.body.style.margin='0';document.body.style.overflow='hidden';")
